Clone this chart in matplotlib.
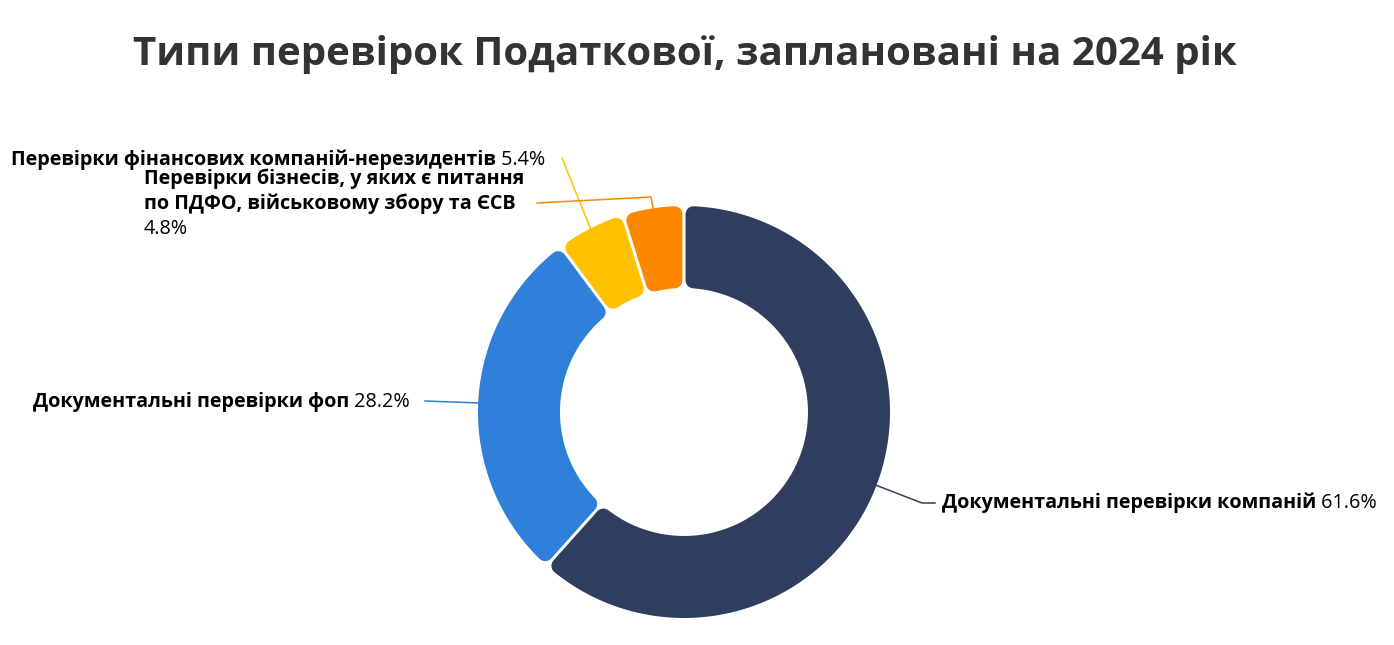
import numpy as np
import matplotlib
matplotlib.use("Agg")
import matplotlib.pyplot as plt
from matplotlib.patches import Polygon

plt.rcParams['font.family'] = ['Open Sans', 'DejaVu Sans']

# data
names = [
    "Документальні перевірки компаній",
    "Документальні перевірки фоп",
    "Перевірки фінансових компаній-нерезидентів",
    "Перевірки бізнесів, у яких є питання\nпо ПДФО, військовому збору та ЄСВ",
]
shares = [61.6, 28.2, 5.4, 4.8]
colors = ["#2F3E5E", "#2F80DA", "#FFC000", "#FD8800"]
title = "Типи перевірок Податкової, заплановані на 2024 рік"

W, H = 1394, 645
fig = plt.figure(figsize=(W / 100, H / 100), dpi=100)
ax = fig.add_axes([0, 0, 1, 1])

cx, cy = 684, H - 412
R, RIN = 206, 124
wedges, _ = ax.pie(shares, colors=colors, startangle=90, counterclock=False,
                   center=(cx, cy), radius=R, wedgeprops=dict(width=R - RIN))
ax.set_xlim(0, W)
ax.set_ylim(0, H)
ax.set_aspect('equal')
ax.axis('off')

# rounded slices with small gaps
rr, gap = 8, 1.5
d = rr + gap
for w, c in zip(wedges, colors):
    w.set_visible(False)
    t1, t2 = np.radians(w.theta1), np.radians(w.theta2)
    ro, ri = R - rr, RIN + rr
    ao = np.linspace(t1 + np.arcsin(d / ro), t2 - np.arcsin(d / ro), 120)
    ai = np.linspace(t2 - np.arcsin(d / ri), t1 + np.arcsin(d / ri), 80)
    xs = np.concatenate([cx + ro * np.cos(ao), cx + ri * np.cos(ai)])
    ys = np.concatenate([cy + ro * np.sin(ao), cy + ri * np.sin(ai)])
    ax.add_patch(Polygon(np.column_stack([xs, ys]), closed=True, facecolor=c,
                         edgecolor=c, lw=2 * rr * 0.72, joinstyle='round'))

def Y(y):
    return H - y

# leader lines (elbow points in pixel layout)
elbows = [
    [(922, 503), (935, 503)],
    [(425, 401)],
    [(562, 158)],
    [(651, 197), (537, 203)],
]
for w, c, pts in zip(wedges, colors, elbows):
    a = np.radians((w.theta1 + w.theta2) / 2)
    x0, y0 = cx + R * np.cos(a), cy + R * np.sin(a)
    xs = [x0] + [p[0] for p in pts]
    ys = [y0] + [Y(p[1]) for p in pts]
    ax.plot(xs, ys, color=c, lw=1.1)

fs = 14.2
fig.canvas.draw()
rend = fig.canvas.get_renderer()

def label(x, y, name, pct, ha):
    pct_s = f" {pct}%"
    if ha == 'left':
        t = ax.text(x, Y(y), name, fontsize=fs, fontweight='bold', ha='left', va='center')
        bb = t.get_window_extent(rend)
        ax.text(bb.x1, Y(y), pct_s, fontsize=fs, ha='left', va='center')
    else:
        p = ax.text(x, Y(y), pct_s, fontsize=fs, ha='right', va='center')
        bb = p.get_window_extent(rend)
        ax.text(bb.x0, Y(y), name, fontsize=fs, fontweight='bold', ha='right', va='center')

label(942, 503, names[0], shares[0], 'left')
label(410, 402, names[1], shares[1], 'right')
label(545, 160, names[2], shares[2], 'right')
ax.text(144, Y(191), names[3], fontsize=fs, fontweight='bold', ha='left', va='center',
        linespacing=1.3)
ax.text(144, Y(229), f"{shares[3]}%", fontsize=fs, ha='left', va='center')

ax.text(W / 2 - 12, Y(55), title, fontsize=29, fontweight='bold', color='#333333',
        ha='center', va='center')

fig.savefig("out.png", dpi=100)
